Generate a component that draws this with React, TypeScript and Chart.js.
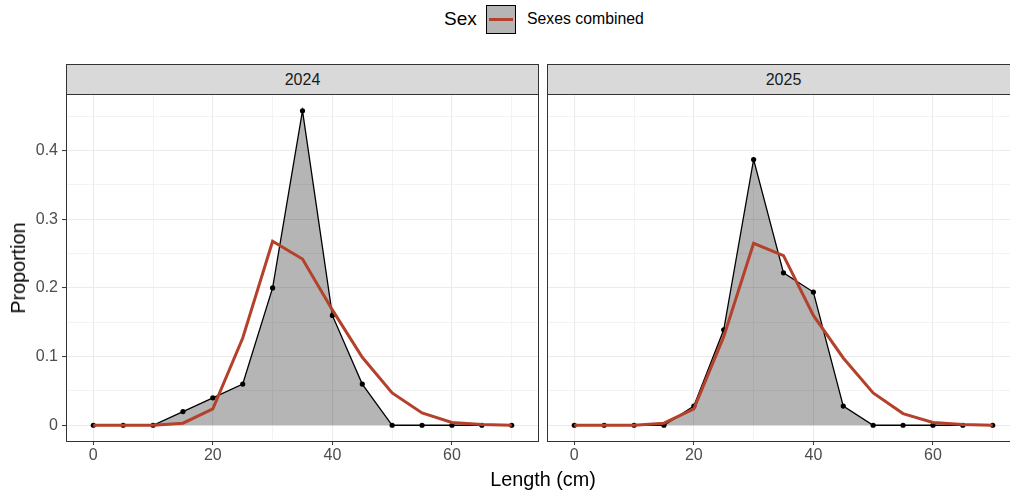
import React, { useEffect, useRef } from "react";
import { Chart, registerables } from "chart.js";

Chart.register(...registerables);

const lengths = [0, 5, 10, 15, 20, 25, 30, 35, 40, 45, 50, 55, 60, 65, 70];
const years = ["2024", "2025"];
const observed2024 = [0, 0, 0, 0.02, 0.04, 0.06, 0.2, 0.458, 0.16, 0.06, 0, 0, 0, 0, 0];
const expected2024 = [0, 0, 0, 0.003, 0.024, 0.127, 0.268, 0.242, 0.168, 0.099, 0.047, 0.018, 0.004, 0.001, 0];
const observed2025 = [0, 0, 0, 0, 0.028, 0.139, 0.387, 0.222, 0.194, 0.028, 0, 0, 0, 0, 0];
const expected2025 = [0, 0, 0, 0.003, 0.024, 0.129, 0.265, 0.247, 0.16, 0.098, 0.047, 0.017, 0.004, 0.001, 0];
const xTicks = [0, 10, 20, 30, 40, 50, 60, 70];
const xLabelled = [0, 20, 40, 60];
const yTicks = [0, 0.05, 0.1, 0.15, 0.2, 0.25, 0.3, 0.35, 0.4, 0.45];
const yLabelled = [0, 0.1, 0.2, 0.3, 0.4];
const legendTitle = "Sex";
const legendLabel = "Sexes combined";
const xTitle = "Length (cm)";
const yTitle = "Proportion";

const FONT = '"Liberation Sans", Arial, Helvetica, sans-serif';
const RED = "#B4412B";
const FILL = "rgba(0,0,0,0.29)";

const isIn = (arr: number[], v: number) => arr.some((a) => Math.abs(a - v) < 1e-9);

const borderPlugin = {
  id: "panelBorder",
  afterDraw(chart: any) {
    const { ctx, chartArea } = chart;
    ctx.save();
    ctx.strokeStyle = "#333333";
    ctx.lineWidth = 1;
    ctx.strokeRect(
      chartArea.left - 0.5,
      chartArea.top - 0.5,
      chartArea.right - chartArea.left + 1,
      chartArea.bottom - chartArea.top + 1
    );
    ctx.restore();
  },
};

function Panel({
  observed,
  expected,
  showY,
  left,
  width,
  padLeft,
}: {
  observed: number[];
  expected: number[];
  showY: boolean;
  left: number;
  width: number;
  padLeft: number;
}) {
  const ref = useRef<HTMLCanvasElement | null>(null);
  useEffect(() => {
    if (!ref.current) return;
    const chart = new Chart(ref.current, {
      type: "line",
      data: {
        datasets: [
          {
            label: "expected",
            data: lengths.map((x, i) => ({ x, y: expected[i] })),
            borderColor: RED,
            borderWidth: 3,
            pointRadius: 0,
            fill: false,
            tension: 0,
          },
          {
            label: "observed",
            data: lengths.map((x, i) => ({ x, y: observed[i] })),
            borderColor: "#000000",
            borderWidth: 1.3,
            backgroundColor: FILL,
            pointRadius: 2.6,
            pointBackgroundColor: "#000000",
            pointBorderWidth: 0,
            fill: "origin",
            tension: 0,
          },
        ],
      },
      options: {
        animation: false,
        responsive: false,
        maintainAspectRatio: false,
        layout: { autoPadding: false, padding: { left: padLeft, right: 1, top: 0, bottom: 0 } },
        plugins: { legend: { display: false }, tooltip: { enabled: false } },
        scales: {
          x: {
            type: "linear",
            min: -4.4,
            max: 74.4,
            afterBuildTicks: (s: any) => {
              s.ticks = xTicks.map((v) => ({ value: v }));
            },
            afterFit: (s: any) => {
              s.height = 50;
              s.paddingLeft = 0;
              s.paddingRight = 0;
            },
            border: { display: false },
            grid: {
              color: "#EBEBEB",
              lineWidth: (c: any) => (c.tick && isIn(xLabelled, c.tick.value) ? 1.1 : 0.6),
              tickColor: (c: any) => (c.tick && isIn(xLabelled, c.tick.value) ? "#333333" : "rgba(0,0,0,0)"),
              tickLength: 4,
              tickWidth: 1,
              drawTicks: true,
            },
            ticks: {
              autoSkip: false,
              maxRotation: 0,
              padding: 1,
              color: "#4D4D4D",
              font: { family: FONT, size: 16 },
              callback: (v: any) => (isIn(xLabelled, Number(v)) ? String(v) : ""),
            },
          },
          y: {
            type: "linear",
            min: -0.0229,
            max: 0.4809,
            afterBuildTicks: (s: any) => {
              s.ticks = yTicks.map((v) => ({ value: v }));
            },
            afterFit: (s: any) => {
              s.width = showY ? 67 : 0;
              s.paddingTop = 0;
              s.paddingBottom = 0;
            },
            border: { display: false },
            grid: {
              color: "#EBEBEB",
              lineWidth: (c: any) => (c.tick && isIn(yLabelled, c.tick.value) ? 1.1 : 0.6),
              tickColor: (c: any) =>
                showY && c.tick && isIn(yLabelled, c.tick.value) ? "#333333" : "rgba(0,0,0,0)",
              tickLength: showY ? 5 : 0,
              tickWidth: 1,
              drawTicks: showY,
            },
            ticks: {
              display: showY,
              autoSkip: false,
              padding: 4,
              color: "#4D4D4D",
              font: { family: FONT, size: 16 },
              callback: (v: any) => {
                const n = Number(v);
                if (!isIn(yLabelled, n)) return "";
                return n === 0 ? "0" : n.toFixed(1);
              },
            },
          },
        },
      },
      plugins: [borderPlugin],
    } as any);
    return () => chart.destroy();
  }, []);
  return (
    <canvas
      ref={ref}
      width={width}
      height={396}
      style={{ position: "absolute", left, top: 95, width, height: 396 }}
    />
  );
}

function Strip({ left, text }: { left: number; text: string }) {
  return (
    <div
      style={{
        position: "absolute",
        left: left - 1,
        top: 64,
        width: 473,
        height: 31,
        boxSizing: "border-box",
        background: "#D9D9D9",
        border: "1px solid #333333",
        color: "#1A1A1A",
        fontFamily: FONT,
        fontSize: 16,
        display: "flex",
        alignItems: "center",
        justifyContent: "center",
      }}
    >
      {text}
    </div>
  );
}

export default function App() {
  return (
    <div
      style={{
        position: "fixed",
        left: 0,
        top: 0,
        width: 1010,
        height: 491,
        overflow: "hidden",
        background: "#FFFFFF",
        fontFamily: FONT,
      }}
    >
      {/* legend */}
      <div
        style={{
          position: "absolute",
          left: 444,
          top: 7,
          height: 24,
          lineHeight: "24px",
          fontSize: 19,
          color: "#000",
        }}
      >
        {legendTitle}
      </div>
      <div
        style={{
          position: "absolute",
          left: 486,
          top: 5,
          width: 30,
          height: 29,
          boxSizing: "border-box",
          border: "1px solid #000",
          background: "#B5B5B5",
        }}
      >
        <div style={{ position: "absolute", left: 2, right: 2, top: 12, height: 3, background: RED }} />
      </div>
      <div
        style={{
          position: "absolute",
          left: 527,
          top: 9,
          height: 20,
          lineHeight: "20px",
          fontSize: 15.8,
          color: "#000",
        }}
      >
        {legendLabel}
      </div>

      <Strip left={67} text={years[0]} />
      <Strip left={548} text={years[1]} />

      <Panel observed={observed2024} expected={expected2024} showY={true} left={0} width={539} padLeft={0} />
      <Panel observed={observed2025} expected={expected2025} showY={false} left={546} width={474} padLeft={2} />

      <div
        style={{
          position: "absolute",
          left: 393,
          width: 300,
          top: 467,
          height: 24,
          lineHeight: "24px",
          textAlign: "center",
          fontSize: 19.8,
          color: "#000",
        }}
      >
        {xTitle}
      </div>
      <div
        style={{
          position: "absolute",
          left: 18,
          top: 268,
          fontSize: 19.8,
          lineHeight: "24px",
          color: "#000",
          transform: "translate(-50%, -50%) rotate(-90deg)",
          whiteSpace: "nowrap",
        }}
      >
        {yTitle}
      </div>
    </div>
  );
}
